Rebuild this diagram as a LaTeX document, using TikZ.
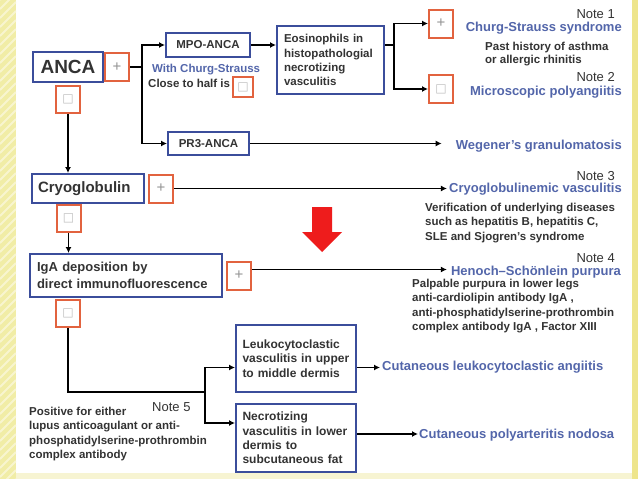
\documentclass[tikz,border=0pt]{standalone}
\usepackage{fontspec}
\setmainfont{Liberation Sans}
\newfontfamily\symfont{DejaVu Sans}
\usepackage{xcolor}
\usetikzlibrary{arrows.meta,positioning,calc}
\definecolor{anblue}{HTML}{3B4D9B}
\definecolor{anred}{HTML}{E2633F}
\definecolor{antext}{HTML}{333333}
\definecolor{anlink}{HTML}{5366AA}
\definecolor{anstrip}{HTML}{F1EDA6}
\definecolor{anstripe}{HTML}{F8F5CF}
\definecolor{anside}{HTML}{EEE58C}
\definecolor{anfloor}{HTML}{F7F4D2}
\definecolor{anarrow}{HTML}{EE1C1C}
\newcommand{\fsz}[2]{\fontsize{#1}{#2}\selectfont}
\newcommand{\nosign}{{\symfont\fsz{12}{12}\color{gray!50}□}}

\begin{document}
\begin{tikzpicture}[
  x=1pt,y=-1pt,
  box/.style={draw=anblue,line width=2pt,fill=white,text=antext,
              font=\bfseries\fsz{11.5}{14.2},inner xsep=7pt,inner ysep=0pt,
              align=left,anchor=north west},
  sign/.style={draw=anred,line width=2pt,fill=white,inner sep=0pt,
               minimum width=24pt,minimum height=28pt,text=gray!85,font=\fsz{15}{15}},
  result/.style={text=anlink,font=\bfseries\fsz{13}{15},inner sep=0pt,anchor=base east},
  note/.style={text=antext,font=\fsz{13}{15},inner sep=0pt,anchor=base east},
  remark/.style={text=antext,font=\bfseries\fsz{11.5}{14.5},inner sep=0pt,
                 align=left,anchor=base west},
  arr/.style={-{Latex[length=6pt,width=6pt]},line width=1.6pt},
  trunk/.style={line width=2.8pt},
  node distance=2pt
]
\useasboundingbox (0,0) rectangle (638,479);
% page
\fill[white] (0,0) rectangle (638,479);
\fill[anstrip] (0,0) rectangle (16,479);
\begin{scope}
  \clip (0,0) rectangle (16,479);
  \foreach \k in {0,9,...,500}
    \draw[anstripe,line width=2pt] (0,\k) -- (16,\k-16);
\end{scope}
\fill[anside] (632,0) rectangle (638,479);
\fill[anfloor] (16,473) rectangle (632,479);

% ANCA
\node[box,minimum width=70pt,minimum height=30pt,font=\bfseries\fsz{19}{19}] (anca) at (32,51) {ANCA};
\node[sign,right=0pt of anca] (ancaPos) {+};
\node[sign,below=of anca,minimum height=27pt] (ancaNeg) {\nosign};
\node[box,minimum width=84pt,minimum height=24pt] (mpo) at (165,32) {MPO-ANCA};
\node[box,minimum width=81pt,minimum height=23pt] (pr3) at (167,131) {PR3-ANCA};
\node[remark,text=anlink] (withCs) at (152,72.7) {With Churg-Strauss};
\node[remark] (closeHalf) at (148,87) {Close to half is};
\node[sign,minimum width=20pt,minimum height=20pt] (halfNeg) at (243,87) {\nosign};
\node[box,text width=93pt,minimum height=68pt] (eos) at (276,25)
  {Eosinophils in\\histopathologial\\necrotizing\\vasculitis};
\node[sign] (csPos) at (441,23.5) {+};
\node[sign] (mpaNeg) at (441,89) {\nosign};

\node[note] (note1) at (615,18.3) {Note 1};
\node[result] (csRes) at (622,31.5) {Churg-Strauss syndrome};
\node[remark,font=\bfseries\fsz{11.5}{12.7}] (pastHist) at (485,63.5) {Past history of asthma\\or allergic rhinitis};
\node[note] (note2) at (615,81.7) {Note 2};
\node[result] (mpaRes) at (622,95) {Microscopic polyangiitis};
\node[result] (wegRes) at (622,149) {Wegener's granulomatosis};

% cryoglobulin
\node[box,text width=100pt,inner xsep=6pt,minimum height=29pt,font=\bfseries\fsz{15}{15}] (cryo) at (31,173) {Cryoglobulin};
\node[sign,right=3pt of cryo] (cryoPos) {+};
\node[sign,minimum height=27pt] (cryoNeg) at (68.5,218.5) {\nosign};
\node[note] (note3) at (615,180) {Note 3};
\node[result] (cryoRes) at (622,192.7) {Cryoglobulinemic vasculitis};
\node[remark,font=\bfseries\fsz{11.5}{14.2}] (verif) at (425,240)
  {Verification of underlying diseases\\such as hepatitis B, hepatitis C,\\SLE and Sjogren's syndrome};

% IgA
\node[box,text width=178pt,minimum height=43pt,font=\bfseries\fsz{13}{16.6}] (iga) at (29,253)
  {IgA deposition by\\direct immunofluorescence};
\node[sign,right=3pt of iga] (igaPos) {+};
\node[sign,minimum height=27pt] (igaNeg) at (68,313.5) {\nosign};
\node[note] (note4) at (615,262.7) {Note 4};
\node[result] (hspRes) at (621,275) {Henoch–Schönlein purpura};
\node[remark] (palp) at (412,330.5)
  {Palpable purpura in lower legs\\anti-cardiolipin antibody IgA ,\\anti-phosphatidylserine-prothrombin\\complex antibody IgA , Factor XIII};

% skin
\node[box,text width=107pt,inner xsep=6.5pt,minimum height=67pt,font=\bfseries\fsz{12}{14.3}] (leuko) at (235,324)
  {Leukocytoclastic\\vasculitis in upper\\to middle dermis};
\node[box,text width=107pt,inner xsep=6.5pt,minimum height=68pt,font=\bfseries\fsz{12}{14.2}] (necro) at (235,403)
  {Necrotizing\\vasculitis in lower\\dermis to\\subcutaneous fat};
\node[result,anchor=base west] (clRes) at (382,370) {Cutaneous leukocytoclastic angiitis};
\node[result,anchor=base west] (panRes) at (419,438) {Cutaneous polyarteritis nodosa};
\node[note,anchor=base west] (note5) at (152,411) {Note 5};
\node[remark] (posEither) at (29,458.5)
  {Positive for either\\lupus anticoagulant or anti-\\phosphatidylserine-prothrombin\\complex antibody};

% big arrow
\fill[anarrow] (312,207) -- (332,207) -- (332,232) -- (342,232) -- (322,252)
  -- (302,232) -- (312,232) -- cycle;

% connectors
\coordinate (ancaFork) at ($(ancaPos.east)+(12,0)$);
\draw[trunk] (ancaPos.east) -- (ancaFork);
\draw[trunk,arr] (ancaFork) |- (mpo.west);
\draw[trunk,arr] (ancaFork) |- (pr3.west);
\draw[arr] (mpo) -- (mpo -| eos.west);
\coordinate (eosFork) at ($(eos.east |- mpo)+(9,0)$);
\draw[trunk] (eos.east |- mpo) -- (eosFork);
\draw[trunk,arr] (eosFork) |- (csPos.west);
\draw[trunk,arr] (eosFork) |- (mpaNeg.west);
\draw[arr,shorten >=14pt] (pr3) -- (pr3 -| wegRes.west);
\draw[arr] (ancaNeg) -- (ancaNeg |- cryo.north);
\draw[arr,shorten >=2pt] (cryoPos) -- (cryoPos -| cryoRes.west);
\draw[arr] (cryoNeg) -- (cryoNeg |- iga.north);
\draw[arr,shorten >=4pt] ([yshift=6pt]igaPos.east) -- ([yshift=6pt]igaPos.east -| hspRes.west);
\coordinate (skinFork) at ($(leuko.south west)+(-30,-1)$);
\draw[trunk] (igaNeg) |- (skinFork);
\draw[trunk,arr] (skinFork) |- ([yshift=-9pt]leuko.west);
\draw[trunk,arr] (skinFork) |- ([yshift=15pt]necro.west);
\draw[arr,shorten >=2pt] ([yshift=-9pt]leuko.east) -- ([yshift=-9pt]leuko.east -| clRes.west);
\draw[arr,shorten >=1pt] ([yshift=4pt]necro.east) -- ([yshift=4pt]necro.east -| panRes.west);
\end{tikzpicture}
\end{document}
